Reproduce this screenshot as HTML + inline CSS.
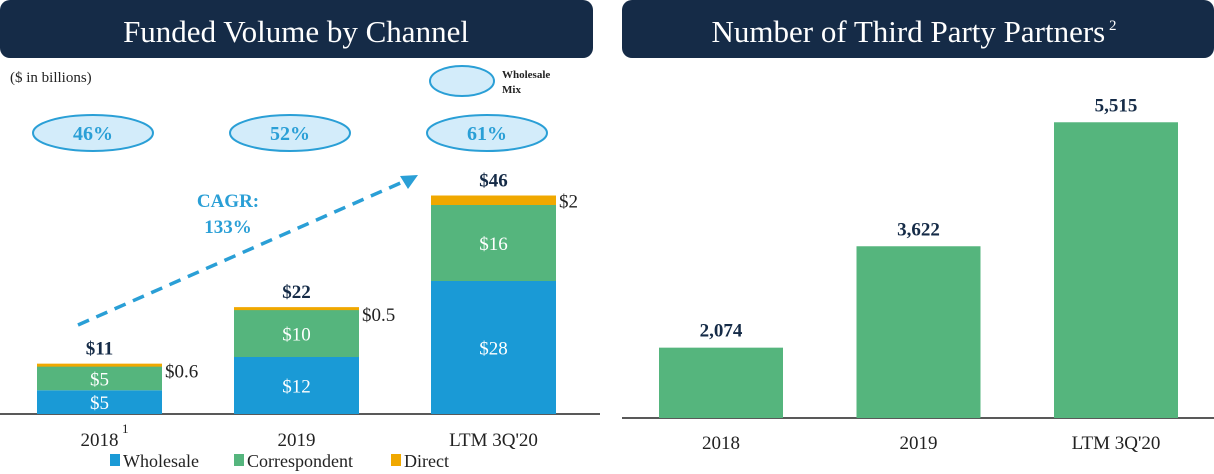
<!DOCTYPE html>
<html><head><meta charset="utf-8"><style>
body{margin:0;width:1214px;height:474px;background:#fff;overflow:hidden;font-family:"Liberation Serif",serif}
svg{display:block}
</style></head><body>
<svg width="1214" height="474" viewBox="0 0 1214 474">
<rect x="0" y="0" width="593" height="58" rx="10" fill="#152b47"/>
<text x="296" y="42" text-anchor="middle" font-size="31" fill="#fff">Funded Volume by Channel</text>
<rect x="622" y="0" width="592" height="58" rx="10" fill="#152b47"/>
<text x="914" y="42" text-anchor="middle" font-size="31" fill="#fff">Number of Third Party Partners<tspan font-size="15" dy="-12"> 2</tspan></text>
<text x="10" y="82" font-size="15" fill="#222">($ in billions)</text>
<ellipse cx="462" cy="81" rx="32" ry="15" fill="#d3ecfa" stroke="#2a9fd6" stroke-width="2"/>
<text x="502" y="78" font-size="11" font-weight="bold" fill="#222">Wholesale</text>
<text x="502" y="93" font-size="11" font-weight="bold" fill="#222">Mix</text>
<g id="left"></g>
<g id="right"></g>
<line x1="78" y1="325" x2="405" y2="181" stroke="#2a9fd6" stroke-width="3.5" stroke-dasharray="12,8"/>
<polygon points="418,175 400,176 408,189" fill="#2a9fd6"/>
<text x="228" y="207" text-anchor="middle" font-size="19" font-weight="bold" fill="#2a9fd6">CAGR:</text>
<text x="228" y="233" text-anchor="middle" font-size="19" font-weight="bold" fill="#2a9fd6">133%</text>
<g font-size="18" fill="#222">
<rect x="110" y="454" width="10" height="12" fill="#1a9ad6"/>
<text x="123" y="467">Wholesale</text>
<rect x="234" y="454" width="10" height="12" fill="#55b57d"/>
<text x="247" y="467">Correspondent</text>
<rect x="391" y="454" width="10" height="12" fill="#f0a800"/>
<text x="404" y="467">Direct</text>
</g>
</svg>
<script>
const categories=["2018","2019","LTM 3Q'20"];
const wholesale=[5,12,28];
const correspondent=[5,10,16];
const direct=[0.6,0.5,2];
const totals=["$11","$22","$46"];
const mix=["46%","52%","61%"];
const partners=[2074,3622,5515];
const partnerLabels=["2,074","3,622","5,515"];
const NS="http://www.w3.org/2000/svg";
function mk(parent,tag,attrs,txt){const e=document.createElementNS(NS,tag);for(const k in attrs)e.setAttribute(k,attrs[k]);if(txt!==undefined)e.textContent=txt;parent.appendChild(e);return e;}
const L=document.getElementById('left');
const base=414, k=4.75, bw=125;
const lx=i=>37+i*197;
const ly=v=>base-v*k;
mk(L,'line',{x1:0,y1:base,x2:600,y2:base,stroke:'#222',"stroke-width":1.5});
categories.forEach((c,i)=>{
 const x=lx(i),cx=x+bw/2;
 const w=wholesale[i],co=correspondent[i],d=direct[i];
 let r=mk(L,'rect',{x:x,y:ly(w),width:bw,height:base-ly(w),fill:'#1a9ad6'});
 
 r=mk(L,'rect',{x:x,y:ly(w+co),width:bw,height:ly(w)-ly(w+co),fill:'#55b57d'});
 
 r=mk(L,'rect',{x:x,y:ly(w+co+d),width:bw,height:Math.max(3,ly(w+co)-ly(w+co+d)),fill:'#f0a800'});
 
 let t=mk(L,'text',{x:cx,y:(ly(w)+base)/2+7,"text-anchor":"middle","font-size":19,fill:'#fff'},'$'+w);
 
 t=mk(L,'text',{x:cx,y:(ly(w)+ly(w+co))/2+7,"text-anchor":"middle","font-size":19,fill:'#fff'},'$'+co);
 
 t=mk(L,'text',{x:x+bw+3,y:ly(w+co+d)+(i==2?12:14),"font-size":19,fill:'#222'},'$'+d);
 
 t=mk(L,'text',{x:cx,y:ly(w+co+d)-9,"text-anchor":"middle","font-size":19,"font-weight":"bold",fill:'#152b47'},totals[i]);
 
 t=mk(L,'text',{x:cx,y:446,"text-anchor":"middle","font-size":19,fill:'#222'},c);
 
 const e=mk(L,'ellipse',{cx:x+56,cy:133,rx:60,ry:18,fill:'#d3ecfa',stroke:'#2a9fd6',"stroke-width":2});
 
 t=mk(L,'text',{x:x+56,y:140,"text-anchor":"middle","font-size":20,"font-weight":"bold",fill:'#2a9fd6'},mix[i]);
 
});
const fn=mk(L,'text',{x:122,y:433,"font-size":13,fill:'#222'},'1');

const R=document.getElementById('right');
const rb=418, rmin=1000, rk=0.0655;
const ry=v=>rb-(v-rmin)*rk;
const rx=i=>659+i*197.5;
mk(R,'line',{x1:622,y1:rb,x2:1214,y2:rb,stroke:'#222',"stroke-width":1.5});
categories.forEach((c,i)=>{
 const x=rx(i),cx=x+62;
 const r=mk(R,'rect',{x:x,y:ry(partners[i]),width:124,height:rb-ry(partners[i]),fill:'#55b57d'});
 
 let t=mk(R,'text',{x:cx,y:ry(partners[i])-11,"text-anchor":"middle","font-size":19,"font-weight":"bold",fill:'#152b47'},partnerLabels[i]);
 
 t=mk(R,'text',{x:cx,y:449,"text-anchor":"middle","font-size":19,fill:'#222'},c);
 
});
</script>
</body></html>
